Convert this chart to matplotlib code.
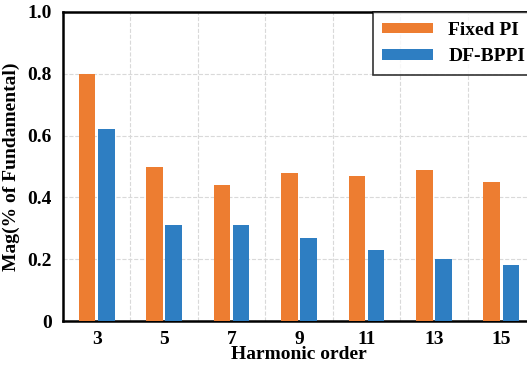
import numpy as np
import matplotlib.pyplot as plt

# harmonic spectrum data
orders = ['3', '5', '7', '9', '11', '13', '15']
fixed_pi = [0.80, 0.50, 0.44, 0.48, 0.47, 0.49, 0.45]
df_bppi = [0.62, 0.31, 0.31, 0.27, 0.23, 0.20, 0.18]

plt.rcParams['font.family'] = ['Liberation Serif', 'DejaVu Serif']
plt.rcParams['font.weight'] = 'bold'

fig = plt.figure(figsize=(5.27, 3.68), dpi=100)
ax = fig.add_axes([0.1195, 0.1277, 0.8956, 0.8397])

x = np.arange(len(orders))
w = 0.245
ax.bar(x - 0.142, fixed_pi, w, color='#ED7D31', label='Fixed PI', zorder=3)
ax.bar(x + 0.142, df_bppi, w, color='#2E7EC2', label='DF-BPPI', zorder=3)

ax.set_xlim(-0.5, len(orders) - 0.5)
ax.set_ylim(0, 1.0)
ax.set_xticks(x)
ax.set_xticklabels(orders)
ax.set_xticks(x[:-1] + 0.5, minor=True)
ax.set_yticks([0, 0.2, 0.4, 0.6, 0.8, 1.0])
ax.set_yticklabels(['0', '0.2', '0.4', '0.6', '0.8', '1.0'])
ax.tick_params(axis='both', which='both', length=0, labelsize=14)
ax.tick_params(axis='x', pad=7)
ax.tick_params(axis='y', pad=8)
ax.grid(axis='y', linestyle='--', color='#d9d9d9', linewidth=0.8, zorder=0)
ax.grid(axis='x', which='minor', linestyle='--', color='#d9d9d9', linewidth=0.8, zorder=0)

for s in ax.spines.values():
    s.set_linewidth(1.8)

ax.set_xlabel('Harmonic order', fontsize=14, fontweight='bold', labelpad=-1)
ax.set_ylabel('Mag(% of Fundamental)', fontsize=14, fontweight='bold', labelpad=5)

leg = ax.legend(loc='upper right', bbox_to_anchor=(1.0, 1.0), borderaxespad=0,
                fancybox=False, edgecolor='black',
                handlelength=2.6, handleheight=0.45, borderpad=0.5,
                prop={'weight': 'bold', 'size': 14})
leg.get_frame().set_linewidth(1.2)

fig.savefig('out.png', dpi=100)
